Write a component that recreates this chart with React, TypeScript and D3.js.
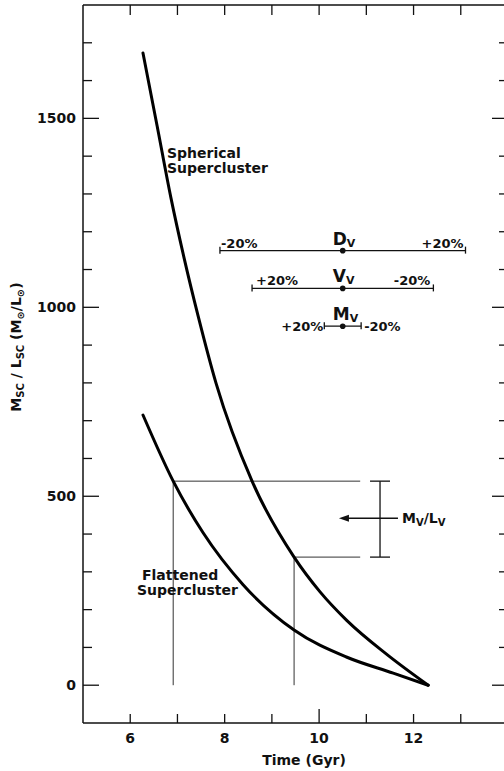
import React from "react";
import * as d3 from "d3";

// ---- data ----
const sphericalT = [6.27, 6.57, 6.86, 7.14, 7.44, 7.82, 8.58, 9.47, 10.02, 10.59, 11.44, 12.31];
const sphericalV = [1673, 1480, 1291, 1131, 976, 798, 540, 339, 247, 171, 81, 0];
const flattenedT = [6.27, 6.91, 7.54, 8.39, 9.47, 10.59, 11.57, 12.31];
const flattenedV = [715, 540, 404, 266, 146, 74, 32, 0];

const xTicks = [6, 7, 8, 9, 10, 11, 12, 13];
const xTickLabels = [6, 8, 10, 12];
const yTickLabels = [0, 500, 1000, 1500];

// error-bar rows
const barNames = ["D", "V", "M"];
const barValues = [1150, 1050, 950];
const barCenter = 10.5;
const barHalf = [2.6, 1.92, 0.39];
const barLeftLabels = ["-20%", "+20%", "+20%"];
const barRightLabels = ["+20%", "-20%", "-20%"];

// guide values
const guideHigh = { t: 6.91, v: 540 };
const guideLow = { t: 9.47, v: 339 };
const guideEndT = 10.87;
const mlBarT = 11.29;
const arrowFromT = 11.67;
const arrowToT = 10.42;
const arrowV = 442;

const W = 504;
const H = 771;
const FONT = "'DejaVu Sans', sans-serif";

export default function App() {
  const x = d3.scaleLinear().domain([5, 14]).range([83, 508]);
  const y = d3.scaleLinear().domain([-100, 1800]).range([723, 5]);

  const line = d3
    .line<[number, number]>()
    .x((d) => x(d[0]))
    .y((d) => y(d[1]))
    .curve(d3.curveMonotoneX);

  const sph = line(sphericalT.map((t, i) => [t, sphericalV[i]]));
  const fla = line(flattenedT.map((t, i) => [t, flattenedV[i]]));

  const yMinor = d3.range(0, 1800, 100);
  const x0 = x(5);
  const x1 = x(14);
  const yTop = y(1800);
  const yBot = y(-100);

  const guide = "#333";

  return (
    <svg
      width={W}
      height={H}
      style={{ position: "absolute", left: 0, top: 0, background: "#fff" }}
      fontFamily={FONT}
      fontWeight="bold"
    >
      <rect x={0} y={0} width={W} height={H} fill="#fff" />
      {/* frame */}
      <line x1={x0} y1={yTop} x2={x1} y2={yTop} stroke="#111" strokeWidth={1.5} />
      <line x1={x0} y1={yBot} x2={x1} y2={yBot} stroke="#111" strokeWidth={1.5} />
      <line x1={x0} y1={yTop} x2={x0} y2={yBot} stroke="#111" strokeWidth={1.5} />
      <line x1={x1} y1={yTop} x2={x1} y2={yBot} stroke="#111" strokeWidth={1.5} />

      {/* x ticks */}
      {xTicks.map((t) => (
        <g key={"xt" + t}>
          <line x1={x(t)} x2={x(t)} y1={yBot} y2={yBot - (t === 10 ? 14 : 9)} stroke="#111" strokeWidth={1.3} />
          <line x1={x(t)} x2={x(t)} y1={yTop} y2={yTop + 10} stroke="#111" strokeWidth={1.3} />
        </g>
      ))}
      {xTickLabels.map((t) => (
        <text key={"xl" + t} x={x(t)} y={743} textAnchor="middle" fontSize={14} fill="#111">
          {t}
        </text>
      ))}
      <text x={304} y={765} textAnchor="middle" fontSize={14} fill="#111">
        Time (Gyr)
      </text>

      {/* y ticks */}
      {yMinor.map((v) => {
        const major = v % 500 === 0;
        const len = major ? 16 : 9;
        return (
          <g key={"yt" + v}>
            <line x1={x0} x2={x0 + len} y1={y(v)} y2={y(v)} stroke="#111" strokeWidth={1.3} />
            <line x1={x1} x2={x1 - len} y1={y(v)} y2={y(v)} stroke="#111" strokeWidth={1.3} />
          </g>
        );
      })}
      {yTickLabels.map((v) => (
        <text key={"yl" + v} x={76} y={y(v) + 5} textAnchor="end" fontSize={14} fill="#111">
          {v}
        </text>
      ))}
      <text transform="translate(21,347) rotate(-90)" textAnchor="middle" fontSize={14} fill="#111">
        M<tspan fontSize={10} dy={3}>SC</tspan>
        <tspan dy={-3}> / L</tspan>
        <tspan fontSize={10} dy={3}>SC</tspan>
        <tspan dy={-3}> (M</tspan>
        <tspan fontSize={10} dy={3}>⊙</tspan>
        <tspan dy={-3}>/L</tspan>
        <tspan fontSize={10} dy={3}>⊙</tspan>
        <tspan dy={-3}>)</tspan>
      </text>

      {/* guide lines */}
      <line x1={x(guideHigh.t)} x2={x(guideEndT)} y1={y(guideHigh.v)} y2={y(guideHigh.v)} stroke={guide} strokeWidth={1} />
      <line x1={x(guideHigh.t)} x2={x(guideHigh.t)} y1={y(guideHigh.v)} y2={y(0)} stroke={guide} strokeWidth={1} />
      <line x1={x(guideLow.t)} x2={x(guideEndT)} y1={y(guideLow.v)} y2={y(guideLow.v)} stroke={guide} strokeWidth={1} />
      <line x1={x(guideLow.t)} x2={x(guideLow.t)} y1={y(guideLow.v)} y2={y(0)} stroke={guide} strokeWidth={1} />

      {/* M/L error bar */}
      <line x1={x(mlBarT)} x2={x(mlBarT)} y1={y(guideHigh.v)} y2={y(guideLow.v)} stroke="#111" strokeWidth={1.3} />
      <line x1={x(mlBarT) - 10} x2={x(mlBarT) + 10} y1={y(guideHigh.v)} y2={y(guideHigh.v)} stroke="#111" strokeWidth={1.3} />
      <line x1={x(mlBarT) - 10} x2={x(mlBarT) + 10} y1={y(guideLow.v)} y2={y(guideLow.v)} stroke="#111" strokeWidth={1.3} />
      <line x1={x(arrowFromT)} x2={x(arrowToT) + 8} y1={y(arrowV)} y2={y(arrowV)} stroke="#111" strokeWidth={1.5} />
      <path
        d={`M${x(arrowToT)},${y(arrowV)} L${x(arrowToT) + 10},${y(arrowV) - 3.5} L${x(arrowToT) + 10},${y(arrowV) + 3.5} Z`}
        fill="#111"
      />
      <text x={402} y={523} fontSize={14} fill="#111">
        M<tspan fontSize={10} dy={3}>V</tspan>
        <tspan dy={-3}>/L</tspan>
        <tspan fontSize={10} dy={3}>V</tspan>
      </text>

      {/* D, V, M bars */}
      {barNames.map((n, i) => {
        const yy = y(barValues[i]);
        const xl = x(barCenter - barHalf[i]);
        const xr = x(barCenter + barHalf[i]);
        const xc = x(barCenter);
        const inline = i === 2;
        return (
          <g key={"b" + n}>
            <line x1={xl} x2={xr} y1={yy} y2={yy} stroke="#111" strokeWidth={1.3} />
            <line x1={xl} x2={xl} y1={yy - 4} y2={yy + 3} stroke="#111" strokeWidth={1.3} />
            <line x1={xr} x2={xr} y1={yy - 4} y2={yy + 3} stroke="#111" strokeWidth={1.3} />
            <circle cx={xc} cy={yy} r={2.8} fill="#111" />
            <text x={xc - 10} y={yy - 6} fontSize={17} fill="#111">
              {n}
              <tspan fontSize={11} dy={2}>V</tspan>
            </text>
            {inline ? (
              <>
                <text x={xl - 1} y={yy + 5} textAnchor="end" fontSize={13} fill="#111">
                  {barLeftLabels[i]}
                </text>
                <text x={xr + 3} y={yy + 5} fontSize={13} fill="#111">
                  {barRightLabels[i]}
                </text>
              </>
            ) : (
              <>
                <text x={xl + (i === 0 ? 1 : 4)} y={yy - 3} fontSize={13} fill="#111">
                  {barLeftLabels[i]}
                </text>
                <text x={xr - (i === 0 ? 2 : 3)} y={yy - 3} textAnchor="end" fontSize={13} fill="#111">
                  {barRightLabels[i]}
                </text>
              </>
            )}
          </g>
        );
      })}

      {/* curves */}
      <path d={sph || ""} fill="none" stroke="#000" strokeWidth={3} strokeLinecap="round" />
      <path d={fla || ""} fill="none" stroke="#000" strokeWidth={3} strokeLinecap="round" />

      {/* curve labels */}
      <text x={167} y={158} fontSize={14} fill="#111">Spherical</text>
      <text x={167} y={173} fontSize={14} fill="#111">Supercluster</text>
      <text x={142} y={580} fontSize={14} fill="#111">Flattened</text>
      <text x={137} y={595} fontSize={14} fill="#111">Supercluster</text>
    </svg>
  );
}
